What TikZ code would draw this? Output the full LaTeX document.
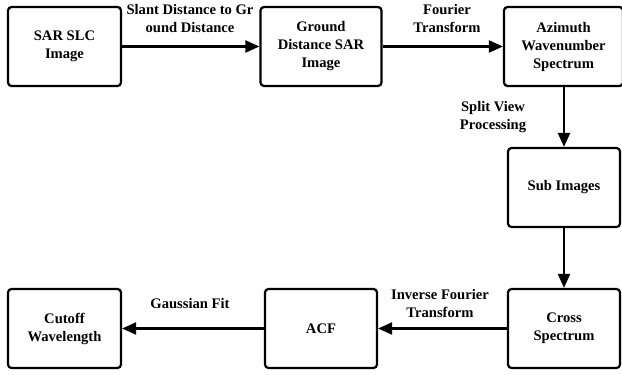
\documentclass[tikz,border=0pt]{standalone}
\usepackage{fontspec}
\setmainfont{Liberation Serif}
\usetikzlibrary{arrows.meta}
\begin{document}
\begin{tikzpicture}[x=1pt,y=-1pt,
  procbox/.style={draw, line width=2.2pt, rounded corners=3.5pt, align=center,
    font=\bfseries\fontsize{14.6}{18}\selectfont, inner sep=0pt},
  flow/.style={line width=2.1pt, -{Triangle[length=14pt,width=12pt]}},
  steplabel/.style={align=center, font=\bfseries\fontsize{14.6}{18}\selectfont}]
\useasboundingbox (0,0) rectangle (622,375);
\clip (0,0) rectangle (622,375);
% top row
\node[procbox, minimum width=113pt, minimum height=79pt] (slc) at (64.5,46.5) {SAR SLC\\Image};
\node[procbox, minimum width=121pt, minimum height=79pt] (gd) at (321,46.5) {Ground\\Distance SAR\\Image};
\node[procbox, minimum width=119pt, minimum height=79pt] (az) at (563.5,46.5) {Azimuth\\Wavenumber\\Spectrum};
% right column
\node[procbox, minimum width=112pt, minimum height=79pt] (sub) at (564,187.5) {Sub Images};
\node[procbox, minimum width=112pt, minimum height=79pt] (cross) at (564,328.5) {Cross\\Spectrum};
% bottom row
\node[procbox, minimum width=112pt, minimum height=79pt] (acf) at (321,328.5) {ACF};
\node[procbox, minimum width=113pt, minimum height=79pt] (cut) at (64.5,328.5) {Cutoff\\Wavelength};
% connectors
\draw[flow] (slc) -- (gd);
\draw[flow] (gd) -- (az);
\draw[flow] (az.south -| sub.north) -- (sub.north);
\draw[flow] (sub) -- (cross);
\draw[flow] (cross) -- (acf);
\draw[flow] (acf) -- (cut);
% labels
\node[steplabel] (l1) at (190,19) {Slant Distance to Gr\\ound Distance};
\node[steplabel] (l2) at (447,19) {Fourier\\Transform};
\node[steplabel] (l3) at (493,117) {Split View\\Processing};
\node[steplabel] (l4) at (440,304) {Inverse Fourier\\Transform};
\node[steplabel] (l5) at (190,304) {Gaussian Fit};
\end{tikzpicture}
\end{document}
